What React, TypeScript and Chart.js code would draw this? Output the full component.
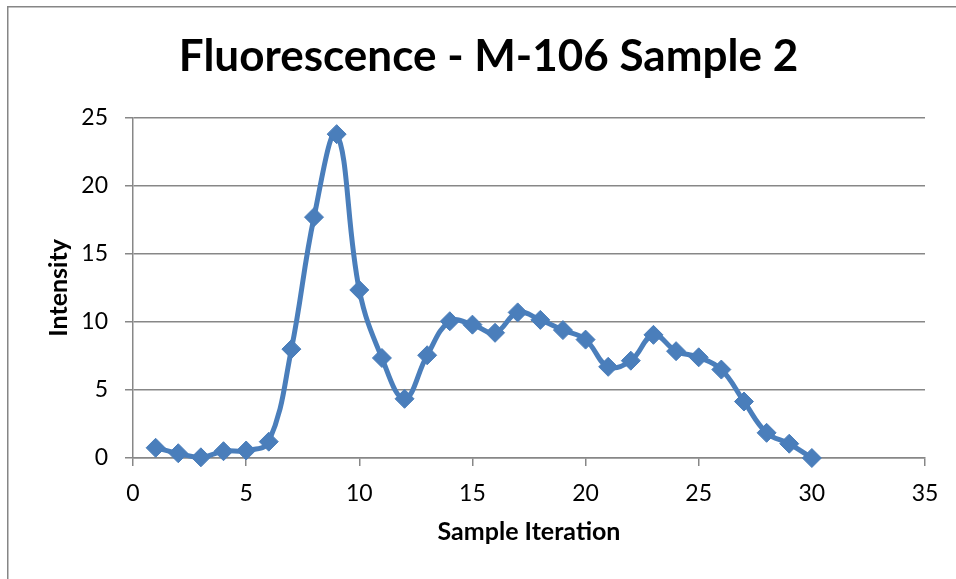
import React, { useEffect, useRef } from "react";
import { Chart, registerables } from "chart.js";

Chart.register(...registerables);

// ---- data ----
const iterations = [1, 2, 3, 4, 5, 6, 7, 8, 9, 10, 11, 12, 13, 14, 15, 16, 17, 18, 19, 20, 21, 22, 23, 24, 25, 26, 27, 28, 29, 30];
const intensity = [0.75, 0.35, 0.05, 0.5, 0.55, 1.2, 8.0, 17.7, 23.8, 12.35, 7.35, 4.35, 7.55, 10.05, 9.8, 9.2, 10.7, 10.15, 9.4, 8.7, 6.7, 7.15, 9.05, 7.85, 7.4, 6.5, 4.15, 1.85, 1.05, 0.0];
const xAxisRange = [0, 35];
const yAxisRange = [0, 25];
const tickStep = 5;

const TITLE = "Fluorescence - M-106 Sample 2";
const X_TITLE = "Sample Iteration";
const Y_TITLE = "Intensity";

const FONT = 'Lato, "Noto Sans", sans-serif';
const GRID = "#878787";
const BLUE = "#4A7EBB";

const framePlugin = {
  id: "frame",
  beforeDraw(chart: any) {
    const { ctx, width, height } = chart;
    ctx.save();
    ctx.fillStyle = "#ffffff";
    ctx.fillRect(0, 0, width, height);
    ctx.fillStyle = "#868686";
    ctx.fillRect(7, 6, 1.5, height);
    ctx.fillRect(7, 6, width, 1.5);
    ctx.restore();
  },
};

export default function App() {
  const ref = useRef<HTMLCanvasElement | null>(null);

  useEffect(() => {
    if (!ref.current) return;
    const points = iterations.map((x, i) => ({ x, y: intensity[i] }));
    const chart = new Chart(ref.current, {
      type: "scatter",
      data: {
        datasets: [
          {
            label: Y_TITLE,
            data: points,
            showLine: true,
            borderColor: BLUE,
            backgroundColor: BLUE,
            borderWidth: 5,
            tension: 0.4,
            pointStyle: "rectRot",
            pointRadius: 9.5,
            pointBorderWidth: 1,
            pointBorderColor: BLUE,
            pointBackgroundColor: BLUE,
            clip: false as any,
          },
        ],
      },
      options: {
        animation: false,
        responsive: false,
        devicePixelRatio: 1,
        layout: { padding: { top: 0, left: 52, right: 31, bottom: 0 } },
        plugins: {
          legend: { display: false },
          tooltip: { enabled: false },
          title: {
            display: true,
            text: TITLE,
            color: "#000",
            font: { family: FONT, size: 44, weight: "bold" },
            padding: { top: 30, bottom: 35 },
          },
        },
        scales: {
          x: {
            type: "linear",
            min: xAxisRange[0],
            max: xAxisRange[1],
            afterFit(scale: any) {
              scale.height = 121;
            },
            ticks: {
              stepSize: tickStep,
              color: "#000",
              font: { family: FONT, size: 23 },
              padding: 14,
              maxRotation: 0,
            },
            grid: {
              drawOnChartArea: false,
              drawTicks: true,
              tickLength: 8,
              color: GRID,
              lineWidth: 1.5,
            },
            border: { display: true, color: GRID, width: 1.5 },
            title: {
              display: true,
              text: X_TITLE,
              color: "#000",
              font: { family: FONT, size: 25, weight: "bold" },
              padding: { top: 0, bottom: 32 },
            },
          },
          y: {
            type: "linear",
            min: yAxisRange[0],
            max: yAxisRange[1],
            afterFit(scale: any) {
              scale.width = 81;
            },
            ticks: {
              stepSize: tickStep,
              color: "#000",
              font: { family: FONT, size: 23 },
              padding: 17,
            },
            grid: {
              drawOnChartArea: true,
              drawTicks: true,
              tickLength: 8,
              color: GRID,
              lineWidth: 1.5,
            },
            border: { display: true, color: GRID, width: 1.5 },
            title: {
              display: true,
              text: Y_TITLE,
              color: "#000",
              font: { family: FONT, size: 25, weight: "bold" },
              padding: { top: -8, bottom: 0 },
            },
          },
        },
      },
      plugins: [framePlugin],
    } as any);
    return () => chart.destroy();
  }, []);

  return (
    <div
      style={{
        position: "fixed",
        left: 0,
        top: 0,
        width: 956,
        height: 579,
        overflow: "hidden",
        background: "#fff",
      }}
    >
      <canvas ref={ref} width={956} height={579} style={{ display: "block" }} />
    </div>
  );
}
